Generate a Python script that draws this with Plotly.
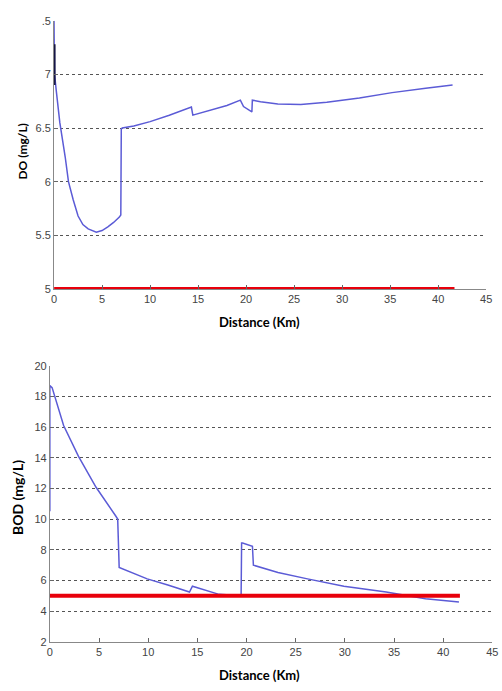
import plotly.graph_objects as go

W, H = 502, 691

# ---------------- data ----------------
do_x = [0, 0.05, 0.24, 0.6, 1.16, 1.5, 2.0, 2.5, 3.0, 3.55, 4.4, 5.0, 5.6, 6.2, 6.8, 6.95,
        7.0, 7.1, 8.3, 10, 12, 14.3, 14.45, 16, 18, 19.4, 19.73, 20.6, 20.65, 21.5, 23.3,
        25.7, 28.4, 31.8, 35.2, 38.7, 41.5]
do_y = [7.5, 7.0, 6.84, 6.55, 6.23, 6.0, 5.83, 5.68, 5.6, 5.56, 5.53, 5.545, 5.58, 5.62, 5.67, 5.69,
        6.49, 6.5, 6.52, 6.56, 6.62, 6.695, 6.62, 6.66, 6.71, 6.76, 6.70, 6.65, 6.76, 6.745, 6.725,
        6.72, 6.74, 6.78, 6.83, 6.87, 6.9]
do_init_x = [0.05, 0.05]
do_init_y = [7.28, 6.9]
do_std_x = [0, 41.7]
do_std_y = [5, 5]

bod_x = [0, 0, 0.23, 1.4, 2.9, 4.7, 6.7, 6.9, 7.05, 9.9, 12, 14.2, 14.5, 17.2, 19.45, 19.5,
         19.6, 20.6, 20.7, 23.2, 26.2, 29.9, 34.2, 38.2, 41.6]
bod_y = [10.5, 18.7, 18.57, 16.1, 14.1, 12.07, 10.2, 10.0, 6.84, 6.1, 5.7, 5.24, 5.62, 5.09, 5.0, 8.44,
         8.44, 8.23, 6.99, 6.52, 6.1, 5.62, 5.24, 4.81, 4.6]
bod_std_x = [0, 41.7]
bod_std_y = [5, 5]

x_ticks = [0, 5, 10, 15, 20, 25, 30, 35, 40, 45]
do_ticks = [5, 5.5, 6, 6.5, 7, 7.5]
do_ticktext = ["5", "5.5", "6", "6.5", "7", ".5"]
bod_ticks = [2, 4, 6, 8, 10, 12, 14, 16, 18, 20]

BLUE = "#5b5bd6"
RED = "#e8000b"

fig = go.Figure()
fig.add_trace(go.Scatter(x=do_std_x, y=do_std_y, mode="lines",
                         line=dict(color=RED, width=4), xaxis="x", yaxis="y", showlegend=False))
fig.add_trace(go.Scatter(x=do_x, y=do_y, mode="lines",
                         line=dict(color=BLUE, width=1.5), xaxis="x", yaxis="y", showlegend=False))
fig.add_trace(go.Scatter(x=do_init_x, y=do_init_y, mode="lines",
                         line=dict(color="#10103a", width=2), xaxis="x", yaxis="y", showlegend=False))

fig.add_trace(go.Scatter(x=bod_x, y=bod_y, mode="lines",
                         line=dict(color=BLUE, width=1.5), xaxis="x2", yaxis="y2", showlegend=False))
fig.add_trace(go.Scatter(x=bod_std_x, y=bod_std_y, mode="lines",
                         line=dict(color=RED, width=4), xaxis="x2", yaxis="y2", showlegend=False))

tickfont = dict(family="Liberation Sans, Arial, sans-serif", size=11, color="#444")

xcommon = dict(range=[0, 45], tickvals=x_ticks, showgrid=False, zeroline=False,
               showline=True, linecolor="#888", linewidth=1, ticks="inside", ticklen=4,
               tickcolor="#666", tickfont=tickfont, fixedrange=True)
ycommon = dict(showgrid=True, gridcolor="#555", griddash="dot", gridwidth=1, zeroline=False,
               showline=True, linecolor="#888", linewidth=1, ticks="inside", ticklen=4,
               tickcolor="#666", tickfont=tickfont, fixedrange=True)

fig.update_layout(
    width=W, height=H,
    margin=dict(l=0, r=0, t=0, b=0),
    paper_bgcolor="white", plot_bgcolor="white",
    xaxis=dict(domain=[52 / W, 492 / W], anchor="y", **xcommon),
    yaxis=dict(domain=[1 - 288 / H, 1 - 15 / H], anchor="x", range=[5, 7.5],
               tickvals=do_ticks, ticktext=do_ticktext, **ycommon),
    xaxis2=dict(domain=[47.7 / W, 498.3 / W], anchor="y2", **xcommon),
    yaxis2=dict(domain=[1 - 647 / H, 1 - 366 / H], anchor="x2", range=[2, 20],
                tickvals=bod_ticks, **ycommon),
)

title_font = dict(family="Lato, Open Sans, sans-serif", size=13, color="black")
ann = [
    dict(text="<b>Distance (Km)</b>", x=261 / W, y=1 - 321.7 / H, font=title_font, textangle=0),
    dict(text="<b>Distance (Km)</b>", x=261 / W, y=1 - 680.7 / H, font=title_font, textangle=0),
    dict(text="<b>DO (mg/L)</b>", x=20 / W, y=1 - 147.5 / H, font=dict(title_font, size=12), textangle=-90),
    dict(text="<b>BOD (mg/L)</b>", x=15 / W, y=1 - 500 / H, font=dict(title_font, size=14), textangle=-90),
]
for a in ann:
    fig.add_annotation(xref="paper", yref="paper", xanchor="center", yanchor="middle",
                       showarrow=False, **a)

fig.write_html("out.html")
